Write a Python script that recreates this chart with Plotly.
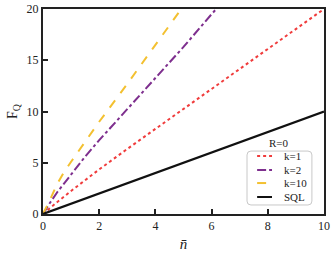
import plotly.graph_objects as go

# data
n_k1 = [0, 0.25, 0.5, 1, 1.5, 2, 3, 4, 5, 6, 7, 8, 9, 10]
F_k1 = [0, 0.6, 1.15, 2.25, 3.3, 4.35, 6.35, 8.3, 10.25, 12.2, 14.15, 16.1, 18.05, 20.0]

n_k2 = [0, 0.1, 0.25, 0.5, 0.75, 1, 1.5, 2, 3, 4, 5, 6, 6.2]
F_k2 = [0, 0.45, 1.1, 2.1, 3.0, 3.9, 5.6, 7.2, 10.2, 13.2, 16.3, 19.5, 20.1]

n_k10 = [0, 0.1, 0.25, 0.5, 0.75, 1, 1.5, 2, 3, 4, 5]
F_k10 = [0, 0.5, 1.4, 2.9, 4.1, 5.1, 7.1, 9.0, 12.7, 16.5, 20.3]

n_sql = [0, 10]
F_sql = [0, 10]

x_ticks = [0, 2, 4, 6, 8, 10]
y_ticks = [0, 5, 10, 15, 20]

series_names = ["k=1", "k=2", "k=10", "SQL"]
series_colors = ["#f03c3c", "#7e2f8e", "#f3c030", "#111111"]
series_dash = ["dot", "dashdot", "dash", "solid"]
legend_title = "R=0"

FONT = "Liberation Serif"

fig = go.Figure()
data = [(n_k1, F_k1), (n_k2, F_k2), (n_k10, F_k10), (n_sql, F_sql)]
for (xs, ys), name, col, dash in zip(data, series_names, series_colors, series_dash):
    fig.add_trace(go.Scatter(x=xs, y=ys, mode="lines", name=name, showlegend=False,
                             line=dict(color=col, width=2.2 if dash == "solid" else 2, dash=dash)))

# manual compact legend (paper coordinates)
L, R, T, B = 0.726, 0.957, 0.307, 0.044
rx, ry = 0.014, 0.019
path = (f"M {L+rx},{T} L {R-rx},{T} Q {R},{T} {R},{T-ry} L {R},{B+ry} Q {R},{B} {R-rx},{B} "
        f"L {L+rx},{B} Q {L},{B} {L},{B+ry} L {L},{T-ry} Q {L},{T} {L+rx},{T} Z")
shapes = [dict(type="path", path=path, xref="paper", yref="paper",
               line=dict(color="#c8c8c8", width=1), fillcolor="white", layer="above")]
annotations = [dict(text=legend_title, x=(L + R) / 2, y=0.346, xref="paper", yref="paper",
                    showarrow=False, xanchor="center", yanchor="middle",
                    font=dict(family=FONT, size=11, color="#222"))]
row_y = [0.283, 0.215, 0.151, 0.083]
for yv, name, col, dash in zip(row_y, series_names, series_colors, series_dash):
    shapes.append(dict(type="line", xref="paper", yref="paper", x0=0.762, x1=0.815, y0=yv, y1=yv,
                       line=dict(color=col, width=2, dash=dash), layer="above"))
    annotations.append(dict(text=name, x=0.852, y=yv, xref="paper", yref="paper",
                            showarrow=False, xanchor="left", yanchor="middle",
                            font=dict(family=FONT, size=11, color="#222")))

fig.update_layout(
    width=332, height=259,
    margin=dict(l=43, r=8, t=9, b=45),
    paper_bgcolor="white", plot_bgcolor="white",
    font=dict(family=FONT, size=12, color="#222"),
    showlegend=False,
    shapes=shapes, annotations=annotations,
)
fig.update_xaxes(range=[0, 10], tickvals=x_ticks, ticks="inside", ticklen=5,
                 tickwidth=1.5, tickcolor="#222", showgrid=False, zeroline=False,
                 showline=True, linecolor="#222", linewidth=2, mirror=True, automargin=False,
                 title=dict(text="<i>n̄</i>", font=dict(family=FONT, size=15), standoff=6))
fig.update_yaxes(range=[0, 20], tickvals=y_ticks, ticks="inside", ticklen=5,
                 tickwidth=1.5, tickcolor="#222", showgrid=False, zeroline=False,
                 showline=True, linecolor="#222", linewidth=2, mirror=True, automargin=False,
                 title=dict(text="F<sub>Q</sub>", font=dict(family=FONT, size=14), standoff=6))

fig.write_html("out.html", config={"displayModeBar": False},
               post_script="document.body.style.margin='0px';document.body.style.overflow='hidden';")
